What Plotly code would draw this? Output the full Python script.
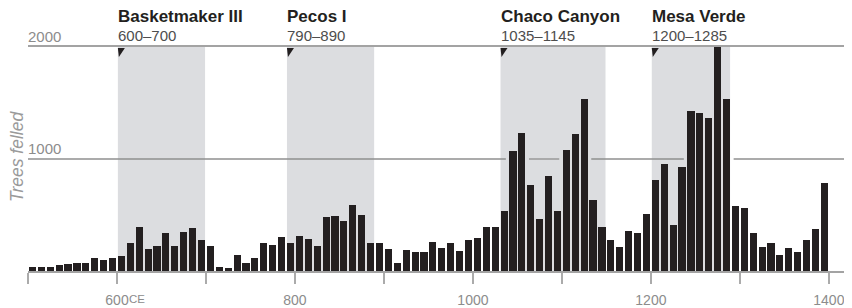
import math
import plotly.graph_objects as go

# ---- data ----
bin_start = list(range(500, 1400, 10))
trees_felled = [40, 40, 40, 50, 65, 75, 75, 115, 100, 118,
                135, 250, 390, 197, 224, 338, 224, 347, 382, 276,
                224, 38, 30, 144, 74, 118, 250, 232, 303, 250,
                312, 285, 224, 479, 488, 444, 585, 497, 250, 250,
                197, 74, 188, 170, 170, 259, 206, 246, 175, 281,
                298, 395, 395, 535, 1070, 1228, 772, 465, 851, 535,
                1079, 1219, 1535, 632, 395, 281, 210, 360, 342, 509,
                816, 956, 412, 930, 1430, 1412, 1368, 2000, 1535, 579,
                561, 342, 210, 254, 140, 202, 167, 281, 377, 789]

period_names = ["Basketmaker III", "Pecos I", "Chaco Canyon", "Mesa Verde"]
period_start = [600, 790, 1035, 1200]
period_end = [700, 890, 1145, 1285]

x_tick_vals = list(range(500, 1401, 100))
x_tick_labels = ["", "600", "", "800", "", "1000", "", "1200", "", "1400"]
y_labels = [1000, 2000]

X_MIN, X_MAX = 500, 1426
BIN = 10
BAR_W = 8

BAR_COLOR = "#231f20"
SHADE = "#dcdde0"
GRID = "#8f8f8f"
AXIS = "#a3a3a3"
LABEL = "#8c8c8c"
FONT = "Liberation Sans, Arial, Helvetica, sans-serif"

fig = go.Figure()

# bars
fig.add_trace(go.Bar(
    x=[b + BIN / 2 for b in bin_start], y=trees_felled, width=BAR_W,
    marker=dict(color=BAR_COLOR, line=dict(width=0)), hoverinfo="x+y",
    showlegend=False))

# 1000 gridline, broken around bars that rise above it
gx, gy = [X_MIN], [1000]
i = 0
n = len(trees_felled)
while i < n:
    if trees_felled[i] > 1000:
        j = i
        while j + 1 < n and trees_felled[j + 1] > 1000:
            j += 1
        gap0 = bin_start[i] - 3
        gap1 = bin_start[j] + BIN + 3
        gx += [gap0, None, gap1]
        gy += [1000, None, 1000]
        i = j + 1
    else:
        i += 1
gx.append(X_MAX)
gy.append(1000)
fig.add_trace(go.Scatter(x=gx, y=gy, mode="lines",
                         line=dict(color=GRID, width=1.3),
                         hoverinfo="skip", showlegend=False))

shapes = []
annotations = []
for name, s, e in zip(period_names, period_start, period_end):
    x0 = (s // BIN) * BIN + 1
    x1 = math.ceil(e / BIN) * BIN - 1
    shapes.append(dict(type="rect", xref="x", yref="y", x0=x0, x1=x1,
                       y0=0, y1=2000, fillcolor=SHADE,
                       line=dict(width=0), layer="below"))
    shapes.append(dict(type="path", xref="x", yref="y",
                       xsizemode="pixel", ysizemode="pixel",
                       xanchor=x0, yanchor=2000,
                       path="M0,-1 L7,-1 L1,-10 Z",
                       fillcolor=BAR_COLOR, line=dict(width=0), layer="above"))
    annotations.append(dict(x=x0, y=2000, xref="x", yref="y",
                            text=f"<b>{name}</b>", showarrow=False,
                            xanchor="left", yanchor="middle", yshift=31,
                            xshift=-2,
                            font=dict(family=FONT, size=17, color=BAR_COLOR)))
    annotations.append(dict(x=x0, y=2000, xref="x", yref="y",
                            text=f"{s}\u2013{e}", showarrow=False,
                            xanchor="left", yanchor="middle", yshift=12,
                            xshift=-2,
                            font=dict(family=FONT, size=15, color="#4d4d4d")))

for v in y_labels:
    annotations.append(dict(x=0, y=v, xref="paper", yref="y",
                            text=str(v), showarrow=False,
                            xanchor="left", yanchor="middle", yshift=11,
                            xshift=-2,
                            font=dict(family=FONT, size=15, color=LABEL)))

# y title
annotations.append(dict(x=0, y=1000, xref="paper", yref="y",
                        text="<i>Trees felled</i>", showarrow=False,
                        textangle=-90, xanchor="center", yanchor="middle",
                        xshift=-11, yshift=2,
                        font=dict(family=FONT, size=17.5, color="#9a9a9a")))

# era suffix after first labelled tick
annotations.append(dict(x=600, y=0, xref="x", yref="paper",
                        text="CE", showarrow=False,
                        xanchor="left", yanchor="top", xshift=10, yshift=-20,
                        font=dict(family=FONT, size=11.5, color=LABEL)))

# the page body adds an 8px margin, so the figure is sized to fill the
# remaining 844x300 of the 852x308 window
fig.update_layout(
    width=844, height=300,
    margin=dict(l=20, r=0, t=39, b=25),
    paper_bgcolor="white", plot_bgcolor="white",
    shapes=shapes, annotations=annotations,
    showlegend=False, bargap=0,
    font=dict(family=FONT),
    xaxis=dict(range=[X_MIN, X_MAX], tickvals=x_tick_vals,
               ticktext=x_tick_labels, showgrid=False, zeroline=False,
               showline=True, mirror=True, linecolor=AXIS, linewidth=2,
               ticks="outside", ticklen=11, tickwidth=1.5, tickcolor="#ababab",
               ticklabelstandoff=4,
               tickfont=dict(family=FONT, size=14, color=LABEL)),
    yaxis=dict(range=[0, 2000], side="right", tickvals=[500, 1500],
               ticks="inside", ticklen=6, tickwidth=1.3, tickcolor="#9a9a9a",
               showticklabels=False, showgrid=False, zeroline=False,
               showline=False),
)

fig.write_html("out.html")
